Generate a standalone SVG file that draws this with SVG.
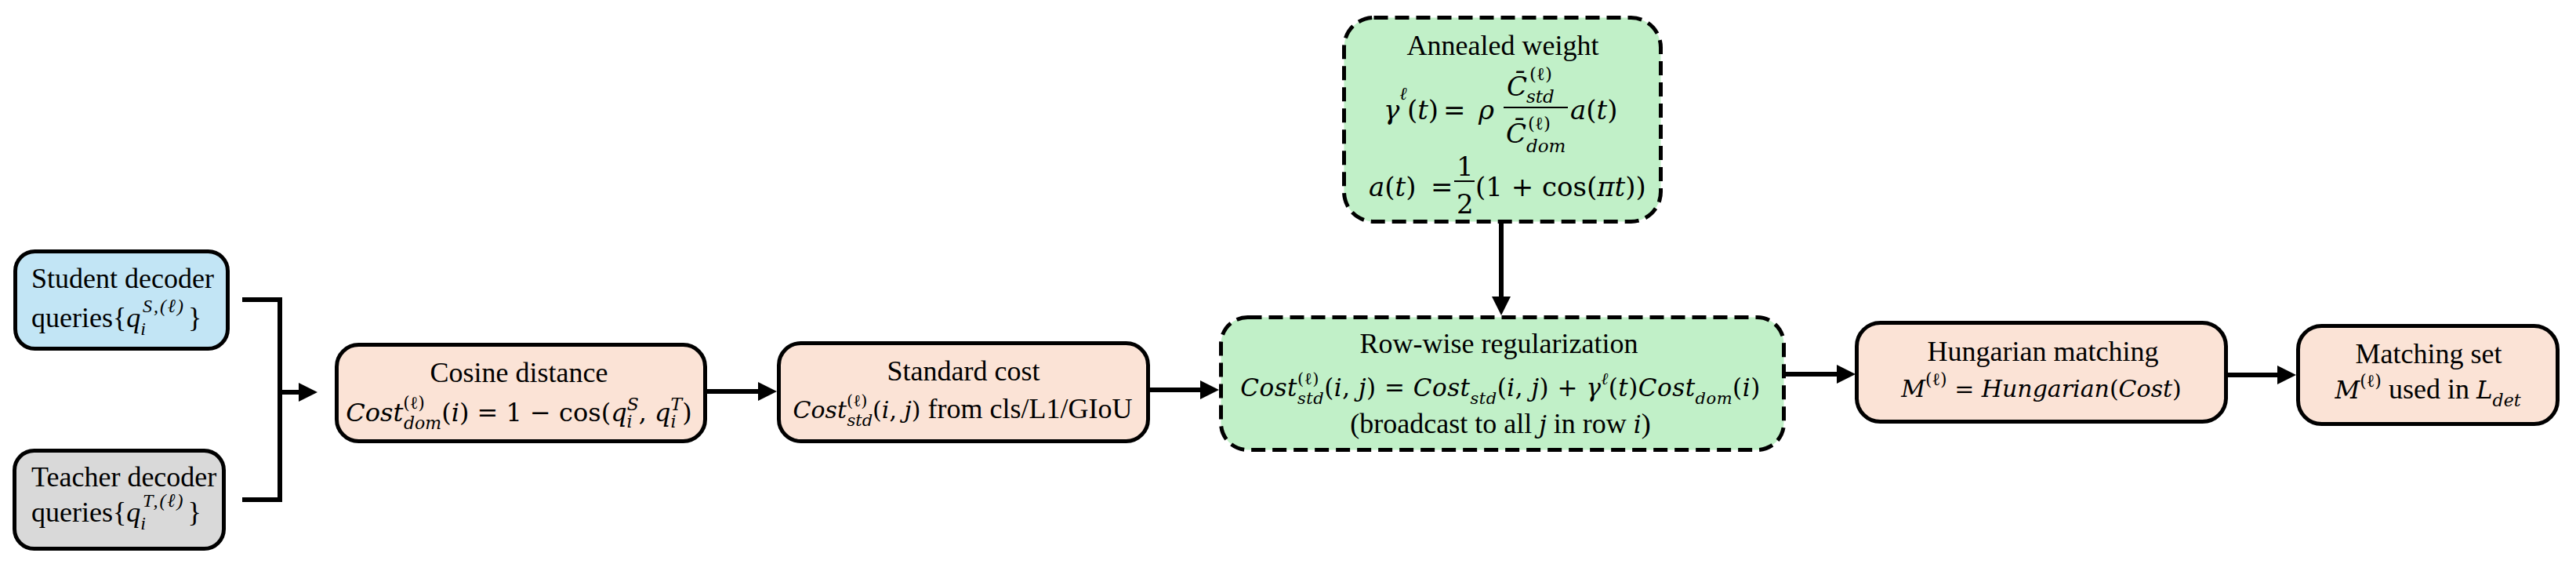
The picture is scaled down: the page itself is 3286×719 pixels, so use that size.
<svg xmlns="http://www.w3.org/2000/svg" width="3286" height="719" viewBox="0 0 3286 719">
<defs>
<style>
.box{stroke:#000;stroke-width:5}
.dash{stroke:#000;stroke-width:5;stroke-dasharray:18 9}
.blue{fill:#C2E5F5}
.gray{fill:#D9D9D9}
.peach{fill:#FBE3D6}
.green{fill:#C1F0C8}
.lbl{font-family:"Liberation Serif","Times New Roman",serif;font-size:36px;fill:#000}
.mth{font-family:"DejaVu Serif",serif;font-size:31px;fill:#000}
.it{font-style:italic}
.tm{font-family:"Liberation Serif","Times New Roman",serif;font-size:36px;font-style:normal}
.mid{text-anchor:middle}
.conn{fill:none;stroke:#000;stroke-width:6}
</style>
<marker id="ah" markerUnits="userSpaceOnUse" markerWidth="24" markerHeight="24" viewBox="0 0 24 24" refX="6" refY="12" orient="auto">
<path d="M0,0 L24,12 L0,24 z" fill="#000"/>
</marker>
</defs>
<rect width="3286" height="719" fill="#fff"/>

<g id="connectors">
<path class="conn" d="M309,382 H357 V637 H309"/>
<path class="conn" d="M357,500 H387" marker-end="url(#ah)"/>
<path class="conn" d="M902,499 H973" marker-end="url(#ah)"/>
<path class="conn" d="M1467,497 H1537" marker-end="url(#ah)"/>
<path class="conn" d="M1915,285 V384" marker-end="url(#ah)"/>
<path class="conn" d="M2278,477 H2349" marker-end="url(#ah)"/>
<path class="conn" d="M2842,478 H2911" marker-end="url(#ah)"/>
</g>

<g id="student">
<rect class="box blue" x="19.5" y="320.5" width="271" height="124" rx="25"/>
<text class="lbl" x="40" y="367">Student decoder</text>
<text class="lbl" x="40" y="417">queries{<tspan class="it">q</tspan><tspan class="it" font-size="24" dy="10">i</tspan><tspan class="it" font-size="24" dx="-4" dy="-29" letter-spacing="2">S,(ℓ)</tspan><tspan dx="4" dy="19">}</tspan></text>
</g>

<g id="teacher">
<rect class="box gray" x="18.5" y="574.5" width="267" height="125" rx="25"/>
<text class="lbl" x="40" y="620">Teacher decoder</text>
<text class="lbl" x="40" y="665">queries{<tspan class="it">q</tspan><tspan class="it" font-size="24" dy="10">i</tspan><tspan class="it" font-size="24" dx="-4" dy="-29" letter-spacing="2">T,(ℓ)</tspan><tspan dx="4" dy="19">}</tspan></text>
</g>

<g id="cosine">
<rect class="box peach" x="429.5" y="439.5" width="470" height="123" rx="28"/>
<text class="lbl mid" x="662" y="487">Cosine distance</text>
<text class="mth mid" x="662" y="537" style="font-size:32px"><tspan class="it">Cost</tspan><tspan font-size="22" dy="-16">(ℓ)</tspan><tspan class="it" font-size="22" dx="-27" dy="26">dom</tspan><tspan dy="-10">(</tspan><tspan class="it">i</tspan><tspan>) = 1 − cos(</tspan><tspan class="it">q</tspan><tspan class="it" font-size="22" dy="8">i</tspan><tspan class="it" font-size="22" dx="-7" dy="-22">S</tspan><tspan dy="14">, </tspan><tspan class="it">q</tspan><tspan class="it" font-size="22" dy="8">i</tspan><tspan class="it" font-size="22" dx="-7" dy="-22">T</tspan><tspan dy="14">)</tspan></text>
</g>

<g id="standard">
<rect class="box peach" x="993.5" y="437.5" width="471" height="125" rx="28"/>
<text class="lbl mid" x="1229" y="485">Standard cost</text>
<text class="mth mid" x="1228" y="533" style="font-size:30px"><tspan class="it">Cost</tspan><tspan font-size="21" dy="-15">(ℓ)</tspan><tspan class="it" font-size="21" dx="-26" dy="25">std</tspan><tspan dy="-10">(</tspan><tspan class="it">i</tspan>, <tspan class="it">j</tspan>)<tspan class="tm"> from cls/L1/GIoU</tspan></text>
</g>

<g id="annealed">
<rect class="dash green" x="1714.5" y="22.5" width="404" height="260" rx="38"/>
<text class="lbl mid" x="1917" y="70">Annealed weight</text>
<g class="mth" style="font-size:34px">
<text x="1765" y="152"><tspan class="it">γ</tspan><tspan class="it" font-size="23" dy="-25">ℓ</tspan><tspan dy="25">(</tspan><tspan class="it">t</tspan>)</text>
<text x="1841" y="152">=</text>
<text x="1886" y="152" class="it">ρ</text>
<text x="1922" y="122" class="it">C̄</text>
<text x="1951" y="102" font-size="23">(ℓ)</text>
<text x="1947" y="131" font-size="23" class="it">std</text>
<text x="1921" y="182" class="it">C̄</text>
<text x="1949" y="165" font-size="23">(ℓ)</text>
<text x="1947" y="194" font-size="23" class="it">dom</text>
<text x="2003" y="152"><tspan class="it">a</tspan>(<tspan class="it">t</tspan>)</text>
<text x="1746" y="250"><tspan class="it">a</tspan>(<tspan class="it">t</tspan>)</text>
<text x="1825" y="250">=</text>
<text x="1858" y="224">1</text>
<text x="1858" y="272">2</text>
<text x="1882" y="250">(1 + cos(<tspan class="it">π</tspan><tspan class="it">t</tspan>))</text>
</g>
<path d="M1918,137 H2000 M1855,231 H1881" stroke="#000" stroke-width="2" fill="none"/>
</g>

<g id="rowwise">
<rect class="dash green" x="1557.5" y="404.5" width="718" height="169" rx="34"/>
<text class="lbl mid" x="1912" y="450">Row-wise regularization</text>
<text class="mth mid" x="1914" y="505" style="font-size:31px;letter-spacing:0.5px"><tspan class="it">Cost</tspan><tspan font-size="21" dy="-15">(ℓ)</tspan><tspan class="it" font-size="21" dx="-28" dy="25">std</tspan><tspan dy="-10">(</tspan><tspan class="it">i</tspan>, <tspan class="it">j</tspan>) = <tspan class="it">Cost</tspan><tspan class="it" font-size="21" dy="10">std</tspan><tspan dy="-10">(</tspan><tspan class="it">i</tspan>, <tspan class="it">j</tspan>) + <tspan class="it">γ</tspan><tspan class="it" font-size="21" dy="-15">ℓ</tspan><tspan dy="15">(</tspan><tspan class="it">t</tspan>)<tspan class="it">Cost</tspan><tspan class="it" font-size="21" dy="10">dom</tspan><tspan dy="-10">(</tspan><tspan class="it">i</tspan>)</text>
<text class="lbl mid" x="1914" y="552">(broadcast to all <tspan class="mth it" font-size="31">j</tspan> in row <tspan class="mth it" font-size="31">i</tspan>)</text>
</g>

<g id="hungarian">
<rect class="box peach" x="2368.5" y="411.5" width="471" height="126" rx="30"/>
<text class="lbl mid" x="2606" y="460">Hungarian matching</text>
<text class="mth mid" x="2604" y="506" style="font-size:30px"><tspan class="it">M</tspan><tspan font-size="22" dy="-15">(ℓ)</tspan><tspan dy="15"> = </tspan><tspan class="it">Hungarian</tspan>(<tspan class="it">Cost</tspan>)</text>
</g>

<g id="matching">
<rect class="box peach" x="2931.5" y="415.5" width="331" height="125" rx="30"/>
<text class="lbl mid" x="3098" y="463">Matching set</text>
<text class="mth mid" x="3097" y="508" style="font-size:31px"><tspan class="it">M</tspan><tspan font-size="22" dy="-15">(ℓ)</tspan><tspan class="tm" dy="15"> used in </tspan><tspan class="it">L</tspan><tspan class="it" font-size="22" dy="10">det</tspan></text>
</g>
</svg>
